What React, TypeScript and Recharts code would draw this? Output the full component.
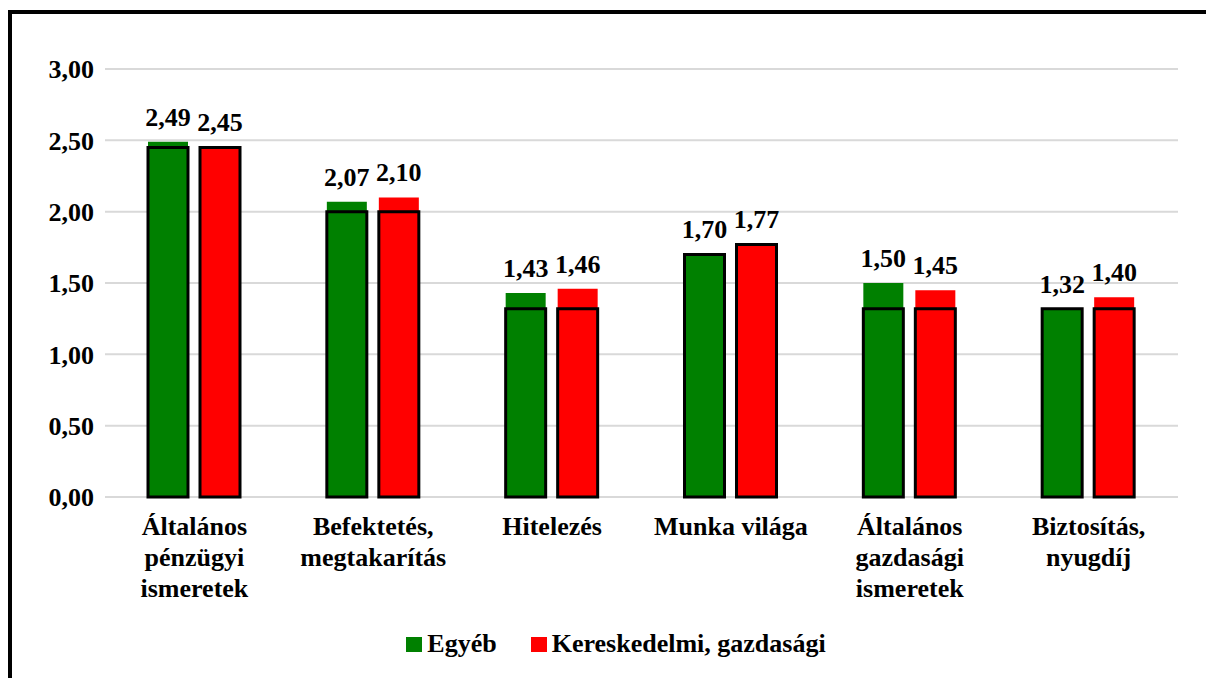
import React from "react";
import {
  BarChart,
  Bar,
  XAxis,
  YAxis,
  CartesianGrid,
  LabelList,
  Legend,
} from "recharts";

const categories = [
  "Általános\npénzügyi\nismeretek",
  "Befektetés,\nmegtakarítás",
  "Hitelezés",
  "Munka világa",
  "Általános\ngazdasági\nismeretek",
  "Biztosítás,\nnyugdíj",
];

const seriesNames = ["Egyéb", "Kereskedelmi, gazdasági"];
const seriesColors = ["#008000", "#ff0000"];

// values shown by the coloured bars and the labels
const egyeb = [2.49, 2.07, 1.43, 1.7, 1.5, 1.32];
const kereskedelmi = [2.45, 2.1, 1.46, 1.77, 1.45, 1.4];

// heights of the black-outlined boxes drawn over the bars
const egyebKeret = [2.45, 2.0, 1.32, 1.7, 1.32, 1.32];
const kereskedelmiKeret = [2.45, 2.0, 1.32, 1.77, 1.32, 1.32];

const yTicks = [0, 0.5, 1, 1.5, 2, 2.5, 3];

const data = categories.map((name, i) => ({
  name,
  egyeb: egyeb[i],
  kereskedelmi: kereskedelmi[i],
  egyebKeret: egyebKeret[i],
  kereskedelmiKeret: kereskedelmiKeret[i],
}));

const FONT = '"Liberation Serif", "Times New Roman", serif';
const fmt = (v: number) => v.toFixed(2).replace(".", ",");

const CategoryTick = ({ x, y, payload }: any) => {
  const lines = String(payload.value).split("\n");
  return (
    <text
      x={x}
      y={y}
      textAnchor="middle"
      fontFamily={FONT}
      fontWeight="bold"
      fontSize={26}
      fill="#000"
    >
      {lines.map((line, i) => (
        <tspan key={i} x={x} dy={i === 0 ? 8 : 31}>
          {line}
        </tspan>
      ))}
    </text>
  );
};

const LegendContent = () => (
  <div
    style={{
      height: 36,
      display: "flex",
      justifyContent: "center",
      alignItems: "center",
      paddingLeft: 44,
      fontFamily: FONT,
      fontWeight: "bold",
      fontSize: 26,
      color: "#000",
    }}
  >
    {seriesNames.map((name, i) => (
      <div
        key={name}
        style={{
          display: "flex",
          alignItems: "center",
          marginLeft: i === 0 ? 0 : 34,
        }}
      >
        <div
          style={{
            width: 16,
            height: 15,
            background: seriesColors[i],
            marginRight: 5,
          }}
        />
        <span>{name}</span>
      </div>
    ))}
  </div>
);

const labelProps = {
  position: "top" as const,
  offset: 16,
  formatter: (v: any) => fmt(Number(v)),
  fontFamily: FONT,
  fontWeight: "bold",
  fontSize: 26,
  fill: "#000",
};

export default function App() {
  return (
    <div
      style={{
        position: "absolute",
        left: 0,
        top: 0,
        width: 1206,
        height: 678,
        overflow: "hidden",
        background: "#fff",
      }}
    >
      <div
        style={{
          position: "absolute",
          left: 8,
          top: 10,
          width: 1230,
          height: 720,
          border: "4px solid #000",
        }}
      />
      <div style={{ position: "absolute", left: 0, top: 0 }}>
        <BarChart
          width={1206}
          height={678}
          data={data}
          margin={{ top: 69, right: 28, bottom: 16, left: 10 }}
          barSize={40}
          barGap={12}
        >
          <CartesianGrid
            vertical={false}
            stroke="#d9d9d9"
            strokeWidth={2}
          />
          <XAxis
            xAxisId="main"
            dataKey="name"
            axisLine={false}
            tickLine={false}
            tickSize={0}
            tickMargin={0}
            height={129}
            interval={0}
            tick={<CategoryTick />}
          />
          <XAxis xAxisId="keret" dataKey="name" hide />
          <YAxis
            domain={[0, 3]}
            ticks={yTicks}
            width={95}
            axisLine={false}
            tickLine={false}
            tickSize={0}
            tickMargin={11}
            tickFormatter={fmt}
            tick={{
              fontFamily: FONT,
              fontWeight: "bold",
              fontSize: 26,
              fill: "#000",
            }}
          />
          <Legend verticalAlign="bottom" content={<LegendContent />} />
          <Bar
            xAxisId="main"
            dataKey="egyeb"
            name={seriesNames[0]}
            fill={seriesColors[0]}
            isAnimationActive={false}
          >
            <LabelList dataKey="egyeb" {...labelProps} />
          </Bar>
          <Bar
            xAxisId="main"
            dataKey="kereskedelmi"
            name={seriesNames[1]}
            fill={seriesColors[1]}
            isAnimationActive={false}
          >
            <LabelList dataKey="kereskedelmi" {...labelProps} />
          </Bar>
          <Bar
            xAxisId="keret"
            dataKey="egyebKeret"
            fill={seriesColors[0]}
            stroke="#000"
            strokeWidth={3}
            legendType="none"
            isAnimationActive={false}
          />
          <Bar
            xAxisId="keret"
            dataKey="kereskedelmiKeret"
            fill={seriesColors[1]}
            stroke="#000"
            strokeWidth={3}
            legendType="none"
            isAnimationActive={false}
          />
        </BarChart>
      </div>
    </div>
  );
}
